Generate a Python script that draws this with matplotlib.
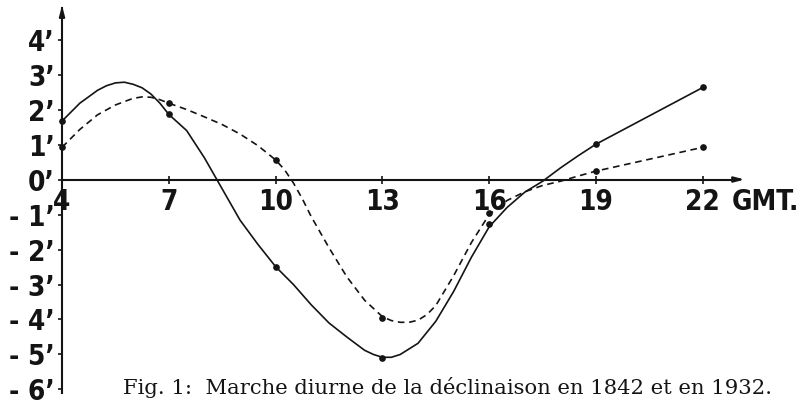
import matplotlib.pyplot as plt

# heures (GMT) des observations
hours = [4, 7, 10, 13, 16, 19, 22]
# points observés (minutes d'arc)
solid_pts = [1.67, 1.86, -2.49, -5.09, -1.27, 1.01, 2.63]
dashed_pts = [0.92, 2.18, 0.56, -3.95, -0.95, 0.24, 0.92]

# tracé des courbes
solid_h = [4, 4.5, 5, 5.25, 5.5, 5.75, 6, 6.25, 6.5, 6.75, 7, 7.5, 8, 8.5, 9,
           9.5, 10, 10.5, 11, 11.5, 12, 12.5, 12.75, 13, 13.25, 13.5, 14, 14.5,
           15, 15.5, 16, 16.5, 17, 17.5, 18, 18.5, 19, 22]
solid_curve = [1.67, 2.18, 2.55, 2.68, 2.76, 2.78, 2.72, 2.62, 2.44, 2.18, 1.86,
               1.4, 0.62, -0.27, -1.16, -1.85, -2.49, -3.0, -3.58, -4.1, -4.5,
               -4.88, -5.0, -5.08, -5.08, -5.0, -4.68, -4.05, -3.2, -2.22, -1.35,
               -0.8, -0.36, -0.05, 0.33, 0.68, 1.01, 2.63]
dashed_h = [4, 4.5, 5, 5.5, 6, 6.25, 6.5, 6.75, 7, 7.5, 8, 8.5, 9, 9.5, 10,
            10.25, 10.5, 10.75, 11, 11.5, 12, 12.5, 13, 13.25, 13.5, 13.75, 14,
            14.25, 14.5, 15, 15.5, 16, 16.5, 17, 17.5, 18, 18.5, 19, 22]
dashed_curve = [0.92, 1.43, 1.85, 2.13, 2.32, 2.36, 2.35, 2.28, 2.18, 2.0, 1.79,
                1.57, 1.3, 0.97, 0.56, 0.28, -0.1, -0.55, -1.06, -1.95, -2.78,
                -3.45, -3.92, -4.03, -4.08, -4.08, -4.02, -3.86, -3.6, -2.75,
                -1.8, -1.0, -0.6, -0.35, -0.17, -0.05, 0.1, 0.24, 0.92]

y_ticks = [4, 3, 2, 1, 0, -1, -2, -3, -4, -5, -6]
y_labels = ["4’", "3’", "2’", "1’", "0’", "- 1’", "- 2’", "- 3’", "- 4’", "- 5’", "- 6’"]
x_labels = ["4", "7", "10", "13", "16", "19", "22"]

ink = "#141414"
fig = plt.figure(figsize=(8.05, 4.05), dpi=100)
ax = fig.add_axes([0, 0, 1, 1])
ax.set_xlim(2.258, 24.87)
ax.set_ylim(-6.443, 5.129)

ax.plot(solid_h, solid_curve, color=ink, lw=1.2, solid_joinstyle="round")
ax.plot(dashed_h, dashed_curve, color=ink, lw=1.2, linestyle=(0, (4, 2.8)))
ax.plot(hours, solid_pts, "o", color=ink, ms=3.8)
ax.plot(hours, dashed_pts, "o", color=ink, ms=3.8)

# axes
for s in ["top", "right"]:
    ax.spines[s].set_visible(False)
ax.spines["left"].set_position(("data", 4))
ax.spines["bottom"].set_position(("data", 0))
ax.spines["left"].set_bounds(-6.1, 4.9)
ax.spines["bottom"].set_bounds(4, 23.0)
for s in ["left", "bottom"]:
    ax.spines[s].set_color(ink)
    ax.spines[s].set_linewidth(1.5)
ax.annotate("", xy=(4, 5.05), xytext=(4, 4.6),
            arrowprops=dict(arrowstyle="-|>,head_width=0.16,head_length=0.6", color=ink, lw=1.5))
ax.annotate("", xy=(23.25, 0), xytext=(22.8, 0),
            arrowprops=dict(arrowstyle="-|>,head_width=0.16,head_length=0.6", color=ink, lw=1.5))

font = dict(family="DejaVu Sans", weight="bold", stretch="condensed", size=20)
ax.set_yticks(y_ticks)
ax.set_yticklabels(y_labels, fontdict=font, color=ink)
ax.set_xticks(hours)
ax.set_xticklabels(x_labels, fontdict=font, color=ink)
ax.tick_params(axis="y", direction="out", length=3, width=1.2, pad=2, colors=ink)
ax.tick_params(axis="x", direction="inout", length=6, width=1.2, pad=3, colors=ink)
ax.text(22.8, -0.25, "GMT.", fontdict=font, color=ink, va="top", ha="left")

fig.text(0.5565, 0.042, "Fig. 1:  Marche diurne de la déclinaison en 1842 et en 1932.",
         family="DejaVu Serif", size=15.2, color=ink, ha="center", va="center")

fig.savefig("out.png", dpi=100, facecolor="white")
